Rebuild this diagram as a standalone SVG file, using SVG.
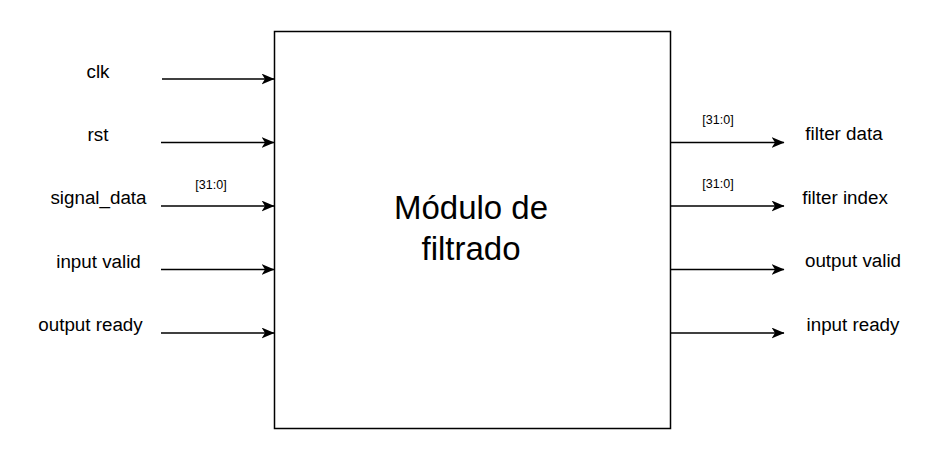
<svg xmlns="http://www.w3.org/2000/svg" width="941" height="467" viewBox="0 0 941 467">
<defs>
<marker id="arr" viewBox="0 0 13 11" refX="12.5" refY="5.5" markerWidth="13" markerHeight="11" markerUnits="userSpaceOnUse" orient="auto">
<path d="M0,0 L13,5.5 L0,11 L3.5,5.5 Z" fill="#000"/>
</marker>
<style>
.lbl{font-family:"Liberation Sans",Arial,sans-serif;font-size:18.8px;fill:#000;text-anchor:middle}
.bus{font-family:"Liberation Sans",Arial,sans-serif;font-size:12.5px;fill:#000;text-anchor:middle}
.big{font-family:"Liberation Sans",Arial,sans-serif;font-size:33px;fill:#000;text-anchor:middle}
.wire{stroke:#000;stroke-width:1.6;fill:none;marker-end:url(#arr)}
</style>
</defs>
<rect width="941" height="467" fill="#fff"/>
<g id="module">
<rect x="274.5" y="31.5" width="396" height="397" fill="#fff" stroke="#000" stroke-width="1.5"/>
<text class="big" x="471" y="219">Módulo de</text>
<text class="big" x="471" y="260">filtrado</text>
</g>
<g id="connectors">
<line class="wire" x1="162" y1="79" x2="274" y2="79"/>
<line class="wire" x1="161" y1="142.5" x2="274" y2="142.5"/>
<line class="wire" x1="161" y1="206" x2="274" y2="206"/>
<line class="wire" x1="161" y1="269.5" x2="274" y2="269.5"/>
<line class="wire" x1="161" y1="333" x2="274" y2="333"/>
<line class="wire" x1="671" y1="142.5" x2="784" y2="142.5"/>
<line class="wire" x1="671" y1="206" x2="784" y2="206"/>
<line class="wire" x1="671" y1="269.5" x2="784" y2="269.5"/>
<line class="wire" x1="671" y1="333" x2="784" y2="333"/>
</g>
<g id="in-clk"><text class="lbl" x="98" y="77.5">clk</text></g>
<g id="in-rst"><text class="lbl" x="98" y="140.5">rst</text></g>
<g id="in-signal_data"><text class="lbl" x="98.5" y="203.5">signal_data</text><text class="bus" x="211" y="189">[31:0]</text></g>
<g id="in-input-valid"><text class="lbl" x="98.5" y="267.5">input valid</text></g>
<g id="in-output-ready"><text class="lbl" x="90.5" y="330.5">output ready</text></g>
<g id="out-filter-data"><text class="lbl" x="844" y="139.5">filter data</text><text class="bus" x="718" y="124">[31:0]</text></g>
<g id="out-filter-index"><text class="lbl" x="845" y="203.5">filter index</text><text class="bus" x="718" y="188">[31:0]</text></g>
<g id="out-output-valid"><text class="lbl" x="853" y="266.5">output valid</text></g>
<g id="out-input-ready"><text class="lbl" x="853" y="330.5">input ready</text></g>
</svg>
